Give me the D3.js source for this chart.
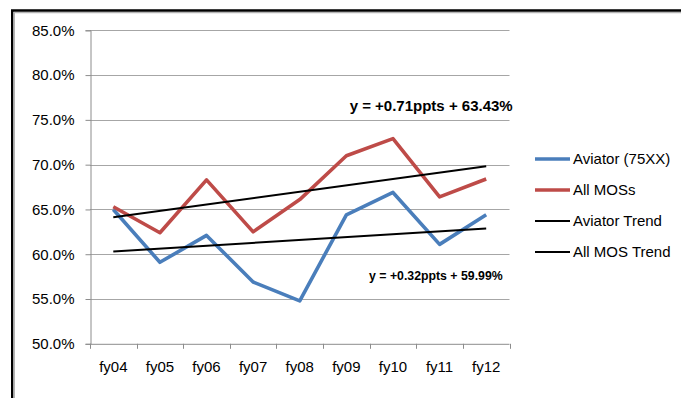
<!DOCTYPE html>
<html>
<head>
<meta charset="utf-8">
<script src="https://cdn.jsdelivr.net/npm/d3@7"></script>
<style>
  html, body { margin: 0; padding: 0; background: #fff; }
  svg { display: block; }
  text { font-family: "Liberation Sans", Arial, sans-serif; fill: #000; }
</style>
</head>
<body>
<svg id="chart" width="681" height="398"></svg>
<script>
// Fiscal years on the category axis
const categories = ["fy04", "fy05", "fy06", "fy07", "fy08", "fy09", "fy10", "fy11", "fy12"];

// Rates in percent
const aviator = [65.0, 59.1, 62.1, 56.9, 54.8, 64.4, 66.9, 61.1, 64.4];
const allMos  = [65.3, 62.4, 68.3, 62.5, 66.1, 71.0, 72.9, 66.4, 68.4];

// Linear trends: value = intercept + slope * period (period 1..9)
const trendNames = ["Aviator Trend", "All MOS Trend"];
const trendSlopes = [0.32, 0.71];
const trendIntercepts = [59.99, 63.43];
const trendLabels = ["y = +0.32ppts + 59.99%", "y = +0.71ppts + 63.43%"];

const yTicks = [50, 55, 60, 65, 70, 75, 80, 85];

const svg = d3.select("#chart");
const plot = { left: 90, right: 509.5, top: 30.3, bottom: 343.8 };

// Outer frame (left and top edges)
svg.append("path").attr("d", "M12.2,398V10.5H681")
  .attr("fill", "none").attr("stroke", "#000").attr("stroke-width", 2.4);
svg.append("path").attr("d", "M14.3,398V12.6H681")
  .attr("fill", "none").attr("stroke", "#b4b4b4").attr("stroke-width", 1.4);

const x = d3.scaleBand().domain(categories).range([plot.left, plot.right]).padding(0);
const y = d3.scaleLinear().domain([50, 85]).range([plot.bottom, plot.top]);
const cx = c => x(c) + x.bandwidth() / 2;

// Horizontal gridlines
svg.append("g").selectAll("line").data(yTicks.slice(1)).join("line")
  .attr("x1", plot.left).attr("x2", plot.right)
  .attr("y1", d => Math.round(y(d)) + 0.5).attr("y2", d => Math.round(y(d)) + 0.5)
  .attr("stroke", "#a6a6a6").attr("stroke-width", 1);

// Y axis
const yAxis = d3.axisLeft(y).tickValues(yTicks).tickSize(5).tickPadding(11)
  .tickFormat(d => d.toFixed(1) + "%");
const gy = svg.append("g").attr("transform", `translate(${plot.left + 0.5},0)`).call(yAxis);
gy.select(".domain").attr("stroke", "#8c8c8c");
gy.selectAll(".tick line").attr("stroke", "#8c8c8c");
gy.selectAll(".tick text").attr("font-size", 15).attr("font-family", "Liberation Sans").attr("fill", "#000");

// X axis with ticks on category boundaries
const gx = svg.append("g").attr("transform", `translate(0,${plot.bottom})`);
gx.append("line").attr("x1", plot.left).attr("x2", plot.right).attr("y1", 0.5).attr("y2", 0.5)
  .attr("stroke", "#8c8c8c");
const boundaries = categories.map(c => x(c)).concat([plot.right]);
gx.selectAll("line.tk").data(boundaries).join("line").attr("class", "tk")
  .attr("x1", d => Math.round(d) + 0.5).attr("x2", d => Math.round(d) + 0.5)
  .attr("y1", 0).attr("y2", 5).attr("stroke", "#8c8c8c");
gx.selectAll("text").data(categories).join("text")
  .attr("x", d => cx(d)).attr("y", 28).attr("text-anchor", "middle")
  .attr("font-size", 15).text(d => d);

// Data series
const line = d3.line().x((d, i) => cx(categories[i])).y(d => y(d));
const series = [
  { name: "Aviator (75XX)", values: aviator, color: "#4a7ebb" },
  { name: "All MOSs", values: allMos, color: "#be4b48" }
];
series.forEach(s => {
  svg.append("path").datum(s.values).attr("d", line)
    .attr("fill", "none").attr("stroke", s.color).attr("stroke-width", 3.6)
    .attr("stroke-linejoin", "round");
});

// Trend lines
const first = 1, last = categories.length;
trendSlopes.forEach((m, k) => {
  const b = trendIntercepts[k];
  svg.append("line")
    .attr("x1", cx(categories[0])).attr("y1", y(b + m * first))
    .attr("x2", cx(categories[last - 1])).attr("y2", y(b + m * last))
    .attr("stroke", "#000").attr("stroke-width", 2);
});

// Trend equations
svg.append("text").attr("x", 502.7).attr("y", 279.5).attr("text-anchor", "end")
  .attr("font-weight", "bold").attr("font-size", 12.3).text(trendLabels[0]);
svg.append("text").attr("x", 512.7).attr("y", 110.5).attr("text-anchor", "end")
  .attr("font-weight", "bold").attr("font-size", 15).text(trendLabels[1]);

// Legend
const legendItems = [
  { name: series[0].name, color: series[0].color, w: 3.6 },
  { name: series[1].name, color: series[1].color, w: 3.6 },
  { name: trendNames[0], color: "#000", w: 2 },
  { name: trendNames[1], color: "#000", w: 2 }
];
const lg = svg.append("g");
legendItems.forEach((d, i) => {
  const yy = 159 + i * 31;
  lg.append("line").attr("x1", 535).attr("x2", 570).attr("y1", yy).attr("y2", yy)
    .attr("stroke", d.color).attr("stroke-width", d.w);
  lg.append("text").attr("x", 573).attr("y", yy + 5.3).attr("font-size", 15).text(d.name);
});
</script>
</body>
</html>
